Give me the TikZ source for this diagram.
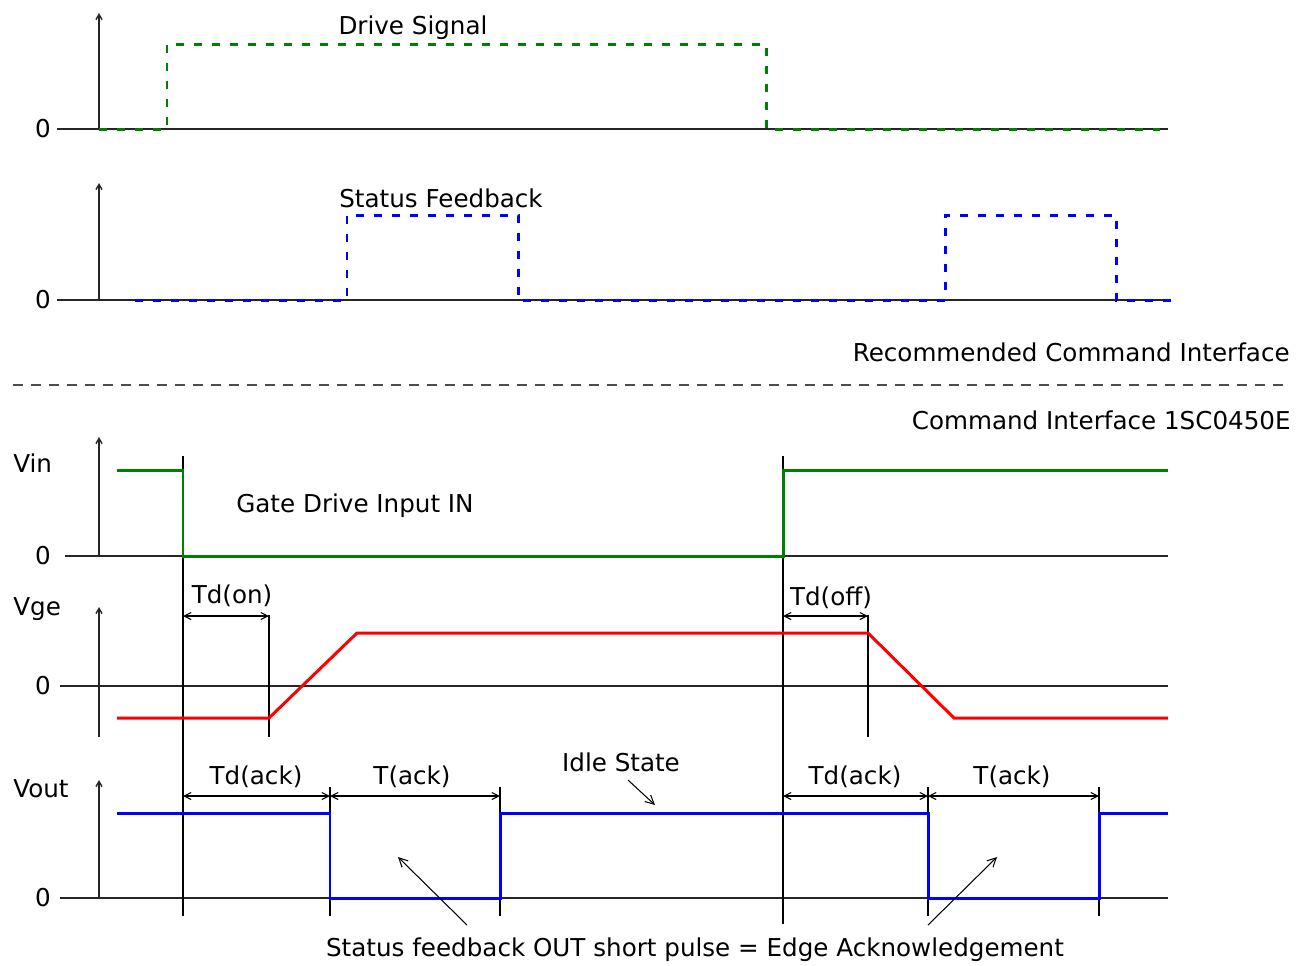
\documentclass[tikz,border=0pt]{standalone}
\usepackage{fontspec}
\setmainfont{DejaVu Sans}
\usetikzlibrary{arrows.meta}

\begin{document}
\begin{tikzpicture}[x=0.02cm, y=-0.02cm, font=\fontsize{14}{16}\selectfont,
    axis/.style={black!85, line width=0.8pt},
    yaxis/.style={axis, -{Straight Barb[length=3pt,width=3.5pt]}},
    guide/.style={black, line width=0.7pt},
    dim/.style={black, line width=0.6pt, {Straight Barb[length=4pt,width=4pt]}-{Straight Barb[length=4pt,width=4pt]}},
    note/.style={black, line width=0.6pt, -{Straight Barb[length=5pt,width=5pt]}},
    sig/.style={line width=1.7pt},
    dsig/.style={line width=1.7pt, dash pattern=on 0.16cm off 0.2cm},
    lbl/.style={inner sep=0pt}]
    \useasboundingbox (0,0) rectangle (1304,965);

    % axes: baseline / arrow top / axis foot / baseline start
    \foreach \i/\y/\top/\foot/\xs in {1/129/13/129/57, 2/300/183/300/57, 3/556/437/556/65, 4/686/607/737/60, 5/898/780/898/60} {
        \draw[axis] (\xs,\y) -- (1168,\y);
        \draw[yaxis] (99,\foot) -- (99,\top);
        \node[lbl] (z\i) at (43,\y) {0};
    }

    % recommended interface
    \draw[dsig, green!50!black] (99,129) -- (167,129) -- (167,44) -- (766,44) -- (766,129) -- (1160,129);
    \node[lbl] (drive) at (413,28) {Drive Signal};
    \draw[dsig, blue] (135,300) -- (347,300) -- (347,215) -- (518,215) -- (518,300)
        -- (945,300) -- (945,215) -- (1116,215) -- (1116,300) -- (1178,300);
    \node[lbl, anchor=west] (status) at (339,198) {Status Feedback};
    \node[lbl, anchor=east] (recom) at (1290,352) {Recommended Command Interface};
    \draw[black!70, line width=0.7pt, dash pattern=on 0.2cm off 0.16cm] (13,385) -- (1290,385);
    \node[lbl, anchor=east] (cmd) at (1291,420) {Command Interface 1SC0450E};

    % time marks
    \foreach \n/\x in {tA/183, tB/269, tC/330, tD/500, tE/783, tF/868, tG/928, tH/1099}
        \coordinate (\n) at (\x,0);
    \coordinate (dv) at (0,616);
    \coordinate (da) at (0,796);
    \foreach \n/\a/\b in {tA/456/916, tE/456/924, tB/615/737, tF/615/737,
                          tC/787/916, tD/787/916, tG/787/916, tH/787/916}
        \draw[guide] (\n |- 0,\a) -- (\n |- 0,\b);

    % Vin
    \node[lbl, anchor=west] (vin) at (13,463) {Vin};
    \draw[sig, green!50!black] (117,470) -- (183,470) -- (183,556) -- (783,556) -- (783,470) -- (1168,470);
    \node[lbl, anchor=west] (gate) at (236,506) {Gate Drive Input IN};

    % Vge
    \node[lbl, anchor=west] (vge) at (13,609) {Vge};
    \draw[sig, red] (117,718) -- (269,718) -- (357,633) -- (868,633) -- (954,718) -- (1168,718);
    \draw[dim] (tA |- dv) -- (tB |- dv);
    \draw[dim] (tE |- dv) -- (tF |- dv);
    \node[lbl] (tdon) at (232,596) {Td(on)};
    \node[lbl] (tdoff) at (831,598) {Td(off)};

    % Vout
    \node[lbl, anchor=west] (vout) at (13,789) {Vout};
    \draw[sig, blue] (117,813) -- (330,813) -- (330,898) -- (500,898) -- (500,813)
        -- (928,813) -- (928,898) -- (1099,898) -- (1099,813) -- (1168,813);
    \draw[dim] (tA |- da) -- (tC |- da);
    \draw[dim] (tC |- da) -- (tD |- da);
    \draw[dim] (tE |- da) -- (tG |- da);
    \draw[dim] (tG |- da) -- (tH |- da);
    \node[lbl] (tdack1) at (256,777) {Td(ack)};
    \node[lbl] (tack1) at (412,777) {T(ack)};
    \node[lbl] (tdack2) at (855,777) {Td(ack)};
    \node[lbl] (tack2) at (1012,777) {T(ack)};

    % notes
    \node[lbl] (idle) at (621,762) {Idle State};
    \coordinate (idleA) at (628,780);
    \coordinate (idleB) at (655,805);
    \draw[note] (idleA) -- (idleB);
    \node[lbl] (pulse) at (695,950) {Status feedback OUT short pulse = Edge Acknowledgement};
    \coordinate (p1a) at (467,925);
    \coordinate (p1b) at (398,857);
    \coordinate (p2a) at (928,925);
    \coordinate (p2b) at (997,857);
    \draw[note] (p1a) -- (p1b);
    \draw[note] (p2a) -- (p2b);
\end{tikzpicture}
\end{document}
